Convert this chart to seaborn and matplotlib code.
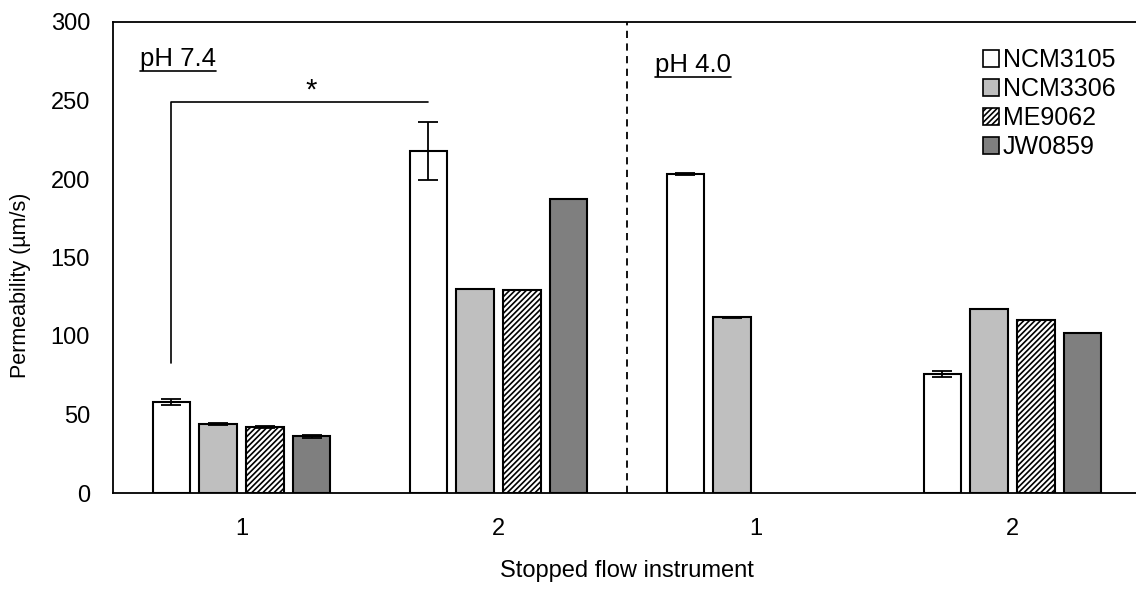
import numpy as np
import pandas as pd
import matplotlib
matplotlib.use("Agg")
import matplotlib.pyplot as plt
import seaborn as sns
from matplotlib.patches import Patch
from matplotlib.lines import Line2D

# ---- data ----
categories = ["pH7.4-1", "pH7.4-2", "pH4.0-1", "pH4.0-2"]
tick_labels = ["1", "2", "1", "2"]
strains = ["NCM3105", "NCM3306", "ME9062", "JW0859"]
NCM3105 = [58, 218, 203, 76]
NCM3306 = [44, 130, 112, 117]
ME9062 = [42, 129, np.nan, 110]
JW0859 = [36, 187, np.nan, 102]
NCM3105_err = [2.0, 18.5, 0.6, 1.8]
NCM3306_err = [0.8, 0.0, 0.3, 0.0]
ME9062_err = [0.7, 0.0, 0.0, 0.0]
JW0859_err = [0.7, 0.0, 0.0, 0.0]

values = {"NCM3105": NCM3105, "NCM3306": NCM3306, "ME9062": ME9062, "JW0859": JW0859}
errors = {"NCM3105": NCM3105_err, "NCM3306": NCM3306_err, "ME9062": ME9062_err, "JW0859": JW0859_err}

rows = []
for s in strains:
    for c, v in zip(categories, values[s]):
        rows.append({"cat": c, "strain": s, "val": v})
df = pd.DataFrame(rows)

sns.set_theme(style="white")
plt.rcParams["font.family"] = ["Liberation Sans", "DejaVu Sans"]
plt.rcParams.update({"text.color": "black", "axes.labelcolor": "black",
                     "xtick.color": "black", "ytick.color": "black"})

fills = {"NCM3105": "#ffffff", "NCM3306": "#bfbfbf", "ME9062": "#ffffff", "JW0859": "#7f7f7f"}
hatches = {"NCM3105": None, "NCM3306": None, "ME9062": "//////", "JW0859": None}
plt.rcParams["hatch.linewidth"] = 1.2

FS = 17

fig = plt.figure(figsize=(11.36, 5.99), dpi=100)
ax = fig.add_axes([113 / 1136, 1 - 493 / 599, 1028 / 1136, 471 / 599])

sns.barplot(data=df, x="cat", y="val", hue="strain", order=categories, hue_order=strains,
            palette=fills, errorbar=None, width=0.727, gap=0.2, edgecolor="black",
            linewidth=1.5, legend=False, ax=ax)

bar_pos = {}
for s, cont in zip(strains, ax.containers):
    for bar in cont:
        bar.set_edgecolor("black")
        if hatches[s]:
            bar.set_hatch(hatches[s])
        xc = bar.get_x() + bar.get_width() / 2
        ci = int(round(xc))
        bar_pos[(s, ci)] = (xc, bar.get_height())

for s in strains:
    for ci in range(len(categories)):
        if (s, ci) in bar_pos and errors[s][ci] > 0:
            xc, h = bar_pos[(s, ci)]
            ax.errorbar(xc, h, yerr=errors[s][ci], color="black", capsize=7,
                        elinewidth=1.3, capthick=1.3, zorder=5)

ax.set_xlim(-0.5, 3.5)
ax.set_ylim(0, 300)
ax.set_yticks([0, 50, 100, 150, 200, 250, 300])
ax.set_xticks(range(4))
ax.set_xticklabels(tick_labels)
ax.tick_params(axis="both", labelsize=FS, length=0, labelcolor="black")
ax.tick_params(axis="y", pad=16.5)
ax.tick_params(axis="x", pad=18)
ax.set_xlabel("Stopped flow instrument", fontsize=FS, color="black")
ax.xaxis.set_label_coords(0.5, -(560 - 493) / 471)
ax.set_ylabel("Permeability (µm/s)", fontsize=15.5, color="black")
ax.yaxis.set_label_coords(-(113 - 31) / 1028, 0.44)
for sp in ax.spines.values():
    sp.set_color("black")
    sp.set_linewidth(1.3)

# dashed separator
ax.axvline(1.5, color="black", linestyle=(0, (4, 3)), linewidth=1.3)

# significance bracket
x1 = bar_pos[("NCM3105", 0)][0]
x2 = bar_pos[("NCM3105", 1)][0]
ax.plot([x1, x1, x2], [83, 249, 249], color="black", linewidth=1.2)
ax.text(x1 + (x2 - x1) * 0.545, 251, "*", ha="center", va="baseline", fontsize=21, color="black")

# pH labels (underlined)
t1 = ax.text(0.026, 0.922, "pH 7.4", transform=ax.transAxes, fontsize=18.5, va="center", ha="left", color="black")
t2 = ax.text(0.527, 0.909, "pH 4.0", transform=ax.transAxes, fontsize=18.5, va="center", ha="left", color="black")
fig.canvas.draw()
r = fig.canvas.get_renderer()
for t in (t1, t2):
    bb = t.get_window_extent(r).transformed(fig.transFigure.inverted())
    y = bb.y0 - 0.5 / 599
    fig.add_artist(Line2D([bb.x0, bb.x1], [y, y], transform=fig.transFigure, color="black", linewidth=1.2))

# legend
handles = [Patch(facecolor=fills[s], edgecolor="black", hatch=hatches[s], linewidth=1.2, label=s) for s in strains]
leg = fig.legend(handles=handles, loc="upper left", bbox_to_anchor=(983 / 1136, 1 - 48 / 599), frameon=False,
                 fontsize=18, handlelength=0.65, handleheight=0.65, handletextpad=0.15, labelspacing=0.2,
                 borderpad=0, borderaxespad=0, labelcolor="black")

fig.savefig("out.png", dpi=100)
